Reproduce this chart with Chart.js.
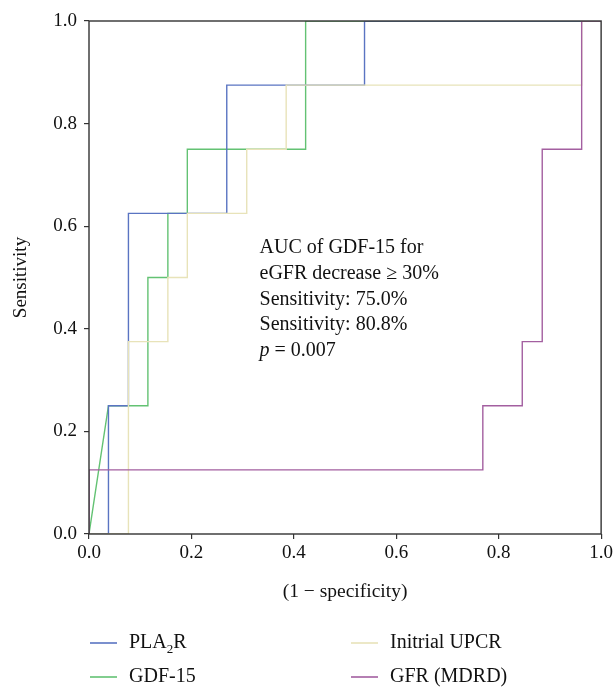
<!DOCTYPE html>
<html>
<head>
<meta charset="utf-8">
<script src="https://cdn.jsdelivr.net/npm/chart.js@4.4.1/dist/chart.umd.min.js"></script>
<style>
  html, body { margin: 0; padding: 0; background: #fff; }
  #wrap { width: 616px; height: 688px; }
</style>
</head>
<body>
<div id="wrap"><canvas id="rocChart" width="616" height="688"></canvas></div>
<script>
// ROC curves, x = 1 - specificity, y = sensitivity
var pla2rX = [0, 0.038, 0.038, 0.077, 0.077, 0.269, 0.269, 0.538, 0.538, 1];
var pla2rY = [0, 0, 0.25, 0.25, 0.625, 0.625, 0.875, 0.875, 1, 1];

var gdfX = [0, 0.038, 0.115, 0.115, 0.154, 0.154, 0.192, 0.192, 0.423, 0.423, 1];
var gdfY = [0, 0.25, 0.25, 0.5, 0.5, 0.625, 0.625, 0.75, 0.75, 1, 1];

var upcrX = [0, 0.077, 0.077, 0.154, 0.154, 0.192, 0.192, 0.308, 0.308, 0.385, 0.385, 0.962, 0.962, 1];
var upcrY = [0, 0, 0.375, 0.375, 0.5, 0.5, 0.625, 0.625, 0.75, 0.75, 0.875, 0.875, 1, 1];

var gfrX = [0, 0, 0.769, 0.769, 0.846, 0.846, 0.885, 0.885, 0.962, 0.962, 1];
var gfrY = [0, 0.125, 0.125, 0.25, 0.25, 0.375, 0.375, 0.75, 0.75, 1, 1];

var axisTicks = [0, 0.2, 0.4, 0.6, 0.8, 1.0];

var annotationLines = [
  'AUC of GDF-15 for',
  'eGFR decrease \u2265 30%',
  'Sensitivity: 75.0%',
  'Sensitivity: 80.8%'
];

var colours = {
  blue: '#5a74c2',
  green: '#63c273',
  beige: '#e8e3b9',
  purple: '#a35fa0',
  axis: '#333333'
};

var serif = '"Liberation Serif", "DejaVu Serif", serif';

function toPoints(xs, ys) {
  return xs.map(function(x, i) { return { x: x, y: ys[i] }; });
}

function lineSet(label, xs, ys, colour, order) {
  return {
    label: label,
    data: toPoints(xs, ys),
    showLine: true,
    borderColor: colour,
    backgroundColor: colour,
    borderWidth: 1.4,
    pointRadius: 0,
    tension: 0,
    fill: false,
    order: order
  };
}

// frame round the plot area, drawn over the curves
var framePlugin = {
  id: 'frame',
  afterDatasetsDraw: function(chart) {
    var a = chart.chartArea;
    var c = chart.ctx;
    c.save();
    c.strokeStyle = colours.axis;
    c.lineWidth = 1.4;
    c.strokeRect(a.left, a.top, a.right - a.left, a.bottom - a.top);
    c.restore();
  }
};

// text block inside the plot
var notePlugin = {
  id: 'note',
  afterDraw: function(chart) {
    var c = chart.ctx;
    var x = chart.scales.x.getPixelForValue(0.333);
    var y = chart.scales.y.getPixelForValue(0.558);
    var step = 25.8;
    c.save();
    c.fillStyle = '#111';
    c.textBaseline = 'middle';
    c.textAlign = 'left';
    c.font = '20px ' + serif;
    annotationLines.forEach(function(t, i) {
      c.fillText(t, x, y + i * step);
    });
    var ly = y + annotationLines.length * step;
    c.font = 'italic 20px ' + serif;
    c.fillText('p', x, ly);
    var pw = c.measureText('p').width;
    c.font = '20px ' + serif;
    c.fillText(' = 0.007', x + pw, ly);
    c.restore();
  }
};

// two-column legend under the axis title
var legendPlugin = {
  id: 'rocLegend',
  afterDraw: function(chart) {
    var c = chart.ctx;
    var items = [
      { text: 'PLA', sub: '2', tail: 'R', colour: colours.blue, col: 0, row: 0 },
      { text: 'Initrial UPCR', colour: colours.beige, col: 1, row: 0 },
      { text: 'GDF-15', colour: colours.green, col: 0, row: 1 },
      { text: 'GFR (MDRD)', colour: colours.purple, col: 1, row: 1 }
    ];
    var colX = [90, 351];
    var rowY = [643, 677];
    c.save();
    c.textBaseline = 'middle';
    c.textAlign = 'left';
    items.forEach(function(it) {
      var x0 = colX[it.col];
      var y0 = rowY[it.row];
      c.strokeStyle = it.colour;
      c.lineWidth = 1.6;
      c.beginPath();
      c.moveTo(x0, y0);
      c.lineTo(x0 + 27, y0);
      c.stroke();
      c.fillStyle = '#111';
      c.font = '20px ' + serif;
      var tx = x0 + 39;
      c.fillText(it.text, tx, y0);
      if (it.sub) {
        tx += c.measureText(it.text).width;
        c.font = '13px ' + serif;
        c.fillText(it.sub, tx, y0 + 7);
        tx += c.measureText(it.sub).width;
        c.font = '20px ' + serif;
        c.fillText(it.tail, tx, y0);
      }
    });
    c.restore();
  }
};

var ctx = document.getElementById('rocChart').getContext('2d');

var chart = new Chart(ctx, {
  type: 'scatter',
  data: {
    datasets: [
      lineSet('GFR (MDRD)', gfrX, gfrY, colours.purple, 1),
      lineSet('PLA2R', pla2rX, pla2rY, colours.blue, 3),
      lineSet('GDF-15', gdfX, gdfY, colours.green, 4),
      lineSet('Initrial UPCR', upcrX, upcrY, colours.beige, 2)
    ]
  },
  options: {
    responsive: false,
    animation: false,
    devicePixelRatio: 1,
    layout: { padding: { top: 21, right: 14, left: 0, bottom: 84 } },
    plugins: {
      legend: { display: false },
      tooltip: { enabled: false }
    },
    scales: {
      x: {
        type: 'linear',
        min: 0,
        max: 1,
        afterBuildTicks: function(s) { s.ticks = axisTicks.map(function(v) { return { value: v }; }); },
        afterFit: function(s) { s.height = 70; },
        ticks: {
          color: '#111',
          font: { family: serif, size: 19 },
          padding: 3,
          maxRotation: 0,
          callback: function(v) { return Number(v).toFixed(1); }
        },
        grid: { display: true, drawOnChartArea: false, drawTicks: true, tickLength: 5, color: colours.axis, lineWidth: 1.2 },
        border: { display: false },
        title: {
          display: true,
          text: '(1 \u2212 specificity)',
          color: '#111',
          font: { family: serif, size: 19.5 },
          padding: { top: 0, bottom: 0 }
        }
      },
      y: {
        type: 'linear',
        min: 0,
        max: 1,
        afterBuildTicks: function(s) { s.ticks = axisTicks.map(function(v) { return { value: v }; }); },
        afterFit: function(s) { s.width = 89; },
        ticks: {
          color: '#111',
          font: { family: serif, size: 19 },
          padding: 7,
          callback: function(v) { return Number(v).toFixed(1); }
        },
        grid: { display: true, drawOnChartArea: false, drawTicks: true, tickLength: 5, color: colours.axis, lineWidth: 1.2 },
        border: { display: false },
        title: {
          display: true,
          text: 'Sensitivity',
          color: '#111',
          font: { family: serif, size: 19 },
          padding: { top: 10, bottom: 0 }
        }
      }
    }
  },
  plugins: [framePlugin, notePlugin, legendPlugin]
});
</script>
</body>
</html>
